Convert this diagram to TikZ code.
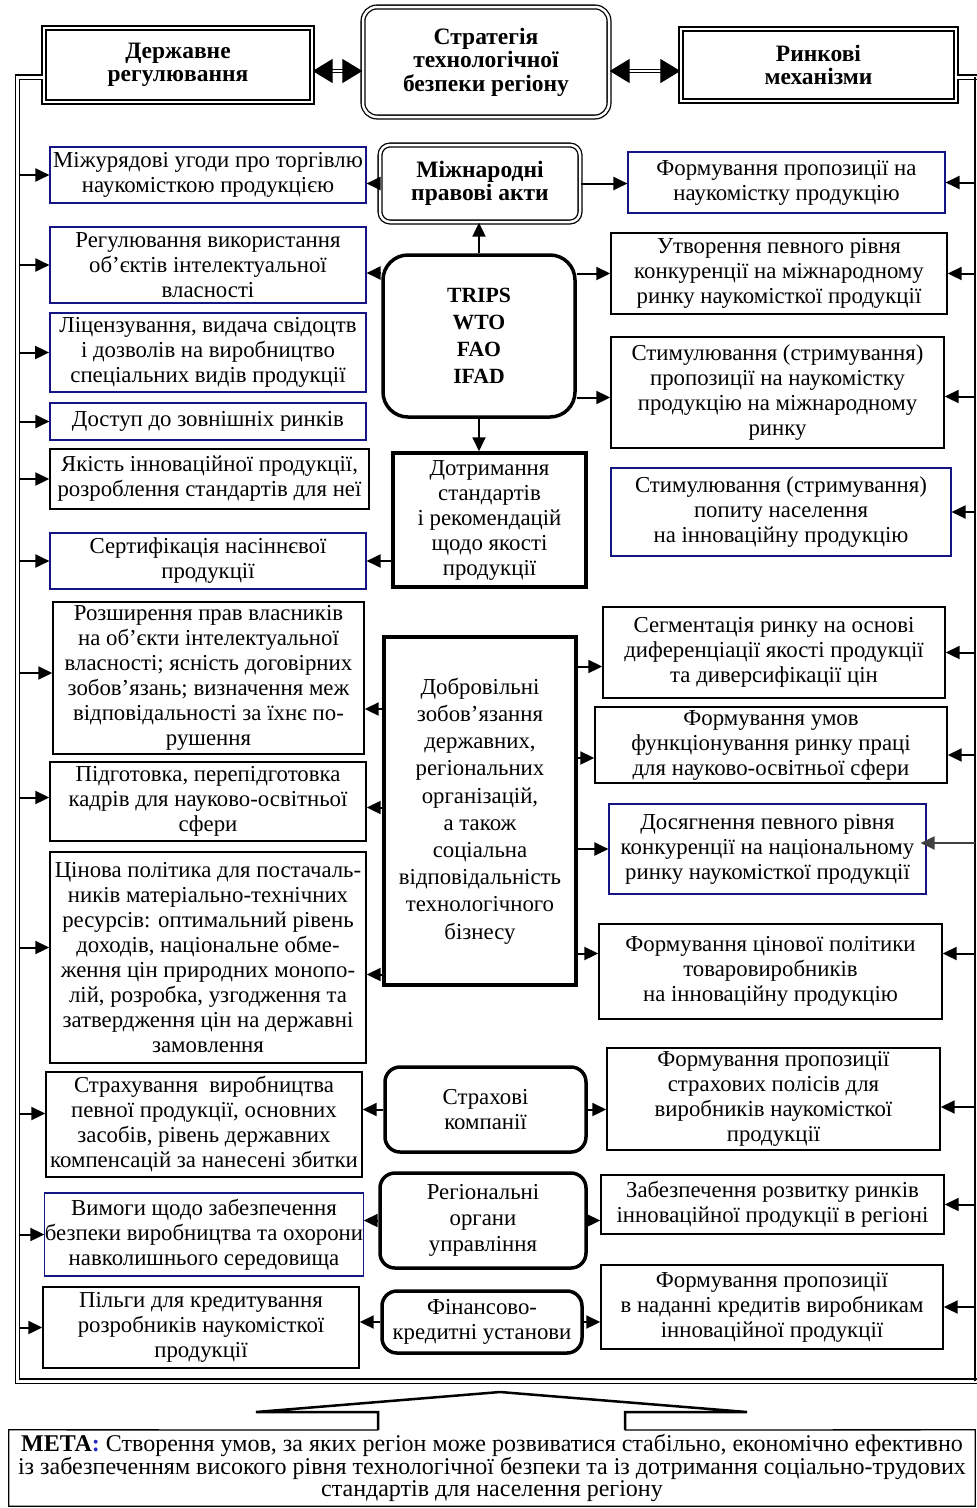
\documentclass[tikz,border=0pt]{standalone}
\usepackage{fontspec}
\setmainfont{Liberation Serif}
\usetikzlibrary{arrows.meta}
\definecolor{ramka}{RGB}{20,20,130}
\definecolor{metablue}{RGB}{40,40,190}

\begin{document}
\begin{tikzpicture}[x=1pt,y=-1pt,
    txt/.style={align=center,inner sep=0pt,font=\fontsize{22.8}{25}\selectfont},
    bld/.style={font=\fontsize{23.5}{23.5}\selectfont\bfseries},
    bx/.style={txt,draw,line width=1.4pt},
    bbx/.style={txt,draw=ramka,line width=1.1pt},
    tbx/.style={txt,draw,line width=3.5pt},
    rbx/.style={txt,draw,line width=3.5pt,rounded corners=15pt},
    dbx/.style={txt,draw,double,double distance=2.5pt,line width=1.3pt},
    arr/.style={-{Triangle[length=14pt,width=13pt]},line width=2pt},
    darr/.style={{Triangle[length=20pt,width=24pt]}-{Triangle[length=20pt,width=24pt]},double,double distance=2pt,line width=1.2pt},
    frame/.style={double,double distance=3pt,line width=1.3pt}]
    \useasboundingbox (0,0) rectangle (977,1508);

    % Верхній ряд
    \node[dbx,bld,minimum width=268pt,minimum height=74pt] (der) at (178,65) {Державне\\регулювання};
    \node[dbx,bld,rounded corners=14pt,minimum width=246pt,minimum height=110pt] (str) at (486,62) {Стратегія\\технологічної\\безпеки регіону};
    \node[dbx,bld,minimum width=275pt,minimum height=72pt] (rin) at (818.5,65) {Ринкові\\механізми};
    \draw[darr] ([yshift=-6pt]der.east) -- ([yshift=-6pt]der.east -| str.west);
    \draw[darr] ([yshift=-9pt]str.east) -- ([yshift=-9pt]str.east -| rin.west);

    % Рамка
    \coordinate (lbot) at (17.5,1381);
    \coordinate (lbus) at (19.5,0);
    \coordinate (rbus) at (975,77);
    \draw[frame] ([yshift=-12pt]der.west) -| (lbot) -- (lbot -| 977,0);
    \draw[frame] ([yshift=-12pt]rin.east) -- ++(21,0);
    \draw[line width=2.5pt] (rbus) -- (rbus |- lbot);

    % Ліва колонка
    \node[bbx,minimum width=316pt,minimum height=56pt] (l1) at (208,175) {Міжурядові угоди про торгівлю\\наукомісткою продукцією};
    \node[bbx,minimum width=316pt,minimum height=76pt] (l2) at (208,265) {Регулювання використання\\об’єктів інтелектуальної\\власності};
    \node[bbx,line width=1.8pt,minimum width=316pt,minimum height=79pt] (l3) at (208,352.5) {Ліцензування, видача свідоцтв\\і дозволів на виробництво\\спеціальних видів продукції};
    \node[bbx,minimum width=316pt,minimum height=37pt] (l4) at (208,421.5) {Доступ до зовнішніх ринків};
    \node[bx,minimum width=319pt,minimum height=60pt] (l5) at (209.5,479) {Якість інноваційної продукції,\\розроблення стандартів для неї};
    \node[bbx,minimum width=316pt,minimum height=56pt] (l6) at (208,561) {Сертифікація насіннєвої\\продукції};
    \node[bx,minimum width=311pt,minimum height=152pt] (l7) at (208.5,678) {Розширення прав власників\\на об’єкти інтелектуальної\\власності; ясність договірних\\зобов’язань; визначення меж\\відповідальності за їхнє по-\\рушення};
    \node[bx,minimum width=316pt,minimum height=79pt] (l8) at (208,801.5) {Підготовка, перепідготовка\\кадрів для науково-освітньої\\сфери};
    \node[bx,minimum width=316pt,minimum height=211pt] (l9) at (208,957.5) {Цінова політика для постачаль-\\ників матеріально-технічних\\ресурсів: оптимальний рівень\\доходів, національне обме-\\ження цін природних монопо-\\лій, розробка, узгодження та\\затвердження цін на державні\\замовлення};
    \node[bx,minimum width=316pt,minimum height=105pt] (l10) at (204,1124.5) {Страхування\ \ виробництва\\певної продукції, основних\\засобів, рівень державних\\компенсацій за нанесені збитки};
    \node[bbx,minimum width=316pt,minimum height=83pt] (l11) at (204,1234.5) {Вимоги щодо забезпечення\\безпеки виробництва та охорони\\навколишнього середовища};
    \node[bx,minimum width=316pt,minimum height=81pt] (l12) at (201,1327.5) {Пільги для кредитування\\розробників наукомісткої\\продукції};

    % Центральна колонка
    \node[dbx,bld,rounded corners=10pt,minimum width=200pt,minimum height=77pt] (mza) at (480,183.5) {Міжнародні\\правові акти};
    \node[rbx,font=\fontsize{21.7}{27}\selectfont\bfseries,rounded corners=25pt,minimum width=192pt,minimum height=162pt] (tr) at (479,336) {TRIPS\\WTO\\FAO\\IFAD};
    \node[tbx,minimum width=193pt,minimum height=134pt] (dot) at (489.5,520) {Дотримання\\стандартів\\і рекомендацій\\щодо якості\\продукції};
    \node[tbx,font=\fontsize{22.8}{27.2}\selectfont,minimum width=192pt,minimum height=348pt] (dob) at (480,811) {Добровільні\\зобов’язання\\державних,\\регіональних\\організацій,\\а також\\соціальна\\відповідальність\\технологічного\\бізнесу};
    \node[rbx,minimum width=201pt,minimum height=85pt] (strah) at (485.5,1109.5) {Страхові\\компанії};
    \node[rbx,font=\fontsize{22.8}{26}\selectfont,minimum width=206pt,minimum height=95pt] (reg) at (483,1220.5) {Регіональні\\органи\\управління};
    \node[rbx,minimum width=200pt,minimum height=62pt] (fin) at (482,1322) {Фінансово-\\кредитні установи};

    % Права колонка
    \node[bbx,minimum width=317pt,minimum height=61pt] (r1) at (786.5,182.5) {Формування пропозиції на\\наукомістку продукцію};
    \node[bx,minimum width=336pt,minimum height=81pt] (r2) at (779,273.5) {Утворення певного рівня\\конкуренції на міжнародному\\ринку наукомісткої продукції};
    \node[bx,minimum width=333pt,minimum height=111pt] (r3) at (777.5,392.5) {Стимулювання (стримування)\\пропозиції на наукомістку\\продукцію на міжнародному\\ринку};
    \node[bbx,minimum width=340pt,minimum height=88pt] (r4) at (781,512) {Стимулювання (стримування)\\попиту населення\\на інноваційну продукцію};
    \node[bx,minimum width=342pt,minimum height=91pt] (r5) at (774,652.5) {Сегментація ринку на основі\\диференціації якості продукції\\та диверсифікації цін};
    \node[bx,minimum width=352pt,minimum height=76pt] (r6) at (771,745) {Формування умов\\функціонування ринку праці\\для науково-освітньої сфери};
    \node[bbx,minimum width=317pt,minimum height=90pt] (r7) at (767.5,849) {Досягнення певного рівня\\конкуренції на національному\\ринку наукомісткої продукції};
    \node[bx,minimum width=343pt,minimum height=95pt] (r8) at (770.5,971.5) {Формування цінової політики\\товаровиробників\\на інноваційну продукцію};
    \node[bx,minimum width=333pt,minimum height=102pt] (r10) at (773.5,1099) {Формування пропозиції\\страхових полісів для\\виробників наукомісткої\\продукції};
    \node[bx,minimum width=343pt,minimum height=59pt] (r11) at (772.5,1204.5) {Забезпечення розвитку ринків\\інноваційної продукції в регіоні};
    \node[bx,minimum width=342pt,minimum height=84pt] (r12) at (772,1307) {Формування пропозиції\\в наданні кредитів виробникам\\інноваційної продукції};

    % Стрілки від центру
    \draw[arr] (tr.north) -- (tr.north |- mza.south);
    \draw[arr] (tr.south) -- (tr.south |- dot.north);
    \draw[arr] (mza.west) -- (mza.west -| l1.east);
    \draw[arr] (mza.east) -- (mza.east -| r1.west);
    \draw[arr] ([yshift=-8pt]l2.east -| tr.west) -- ([yshift=-8pt]l2.east);
    \draw[arr] (tr.east |- r2) -- (r2.west);
    \draw[arr] ([yshift=-5pt]r3.west -| tr.east) -- ([yshift=-5pt]r3.west);
    \draw[arr] (dot.west |- l6) -- (l6.east);
    \draw[arr] ([yshift=-31pt]l7.east -| dob.west) -- ([yshift=-31pt]l7.east);
    \draw[arr] ([yshift=-6pt]l8.east -| dob.west) -- ([yshift=-6pt]l8.east);
    \draw[arr] ([yshift=-17pt]l9.east -| dob.west) -- ([yshift=-17pt]l9.east);
    \draw[arr] ([yshift=-14pt]r5.west -| dob.east) -- ([yshift=-14pt]r5.west);
    \draw[arr] ([yshift=-13pt]r6.west -| dob.east) -- ([yshift=-13pt]r6.west);
    \draw[arr] (dob.east |- r7) -- (r7.west);
    \draw[arr] ([yshift=18pt]r8.west -| dob.east) -- ([yshift=18pt]r8.west);
    \draw[arr] (strah.west) -- (strah.west -| l10.east);
    \draw[arr] (strah.east) -- (strah.east -| r10.west);
    \draw[arr] (reg.west) -- (reg.west -| l11.east);
    \draw[arr] (reg.east) -- (reg.east -| r11.west);
    \draw[arr] (fin.west) -- (fin.west -| l12.east);
    \draw[arr] (fin.east) -- (fin.east -| r12.west);

    % Стрілки від лівої рамки
    \draw[arr] (lbus |- l1) -- (l1.west);
    \draw[arr] (lbus |- l2) -- (l2.west);
    \draw[arr] (lbus |- l3) -- (l3.west);
    \draw[arr] (lbus |- l4) -- (l4.west);
    \draw[arr] (lbus |- l5) -- (l5.west);
    \draw[arr] (lbus |- l6) -- (l6.west);
    \draw[arr] ([yshift=5pt]l7.west -| lbus) -- ([yshift=5pt]l7.west);
    \draw[arr] ([yshift=4pt]l8.west -| lbus) -- ([yshift=4pt]l8.west);
    \draw[arr] ([yshift=10pt]l9.west -| lbus) -- ([yshift=10pt]l9.west);
    \draw[arr] ([yshift=11pt]l10.west -| lbus) -- ([yshift=11pt]l10.west);
    \draw[arr] (lbus |- l11) -- (l11.west);
    \draw[arr] (lbus |- l12) -- (l12.west);

    % Стрілки від правої рамки
    \draw[arr] (rbus |- r1) -- (r1.east);
    \draw[arr] (rbus |- r2) -- (r2.east);
    \draw[arr] ([yshift=-4pt]r3.east -| rbus) -- ([yshift=-4pt]r3.east);
    \draw[arr] (rbus |- r4) -- (r4.east);
    \draw[arr] (rbus |- r5) -- (r5.east);
    \draw[arr] ([yshift=-10pt]r6.east -| rbus) -- ([yshift=-10pt]r6.east);
    \draw[arr,black!75] ([yshift=6pt]r7.east -| rbus) -- ([shift={(-6pt,6pt)}]r7.east);
    \draw[arr] ([yshift=18pt]r8.east -| rbus) -- ([yshift=18pt]r8.east);
    \draw[arr] ([yshift=-8pt]r10.east -| rbus) -- ([yshift=-8pt]r10.east);
    \draw[arr] (rbus |- r11) -- (r11.east);
    \draw[arr] (rbus |- r12) -- (r12.east);

    % Мета
    \node[txt,font=\fontsize{24}{22.5}\selectfont,minimum width=966pt,minimum height=76pt] (meta) at (492,1468) {\textbf{МЕТА\textcolor{metablue}{:}} Створення умов, за яких регіон може розвиватися стабільно, економічно ефективно\\із забезпеченням високого рівня технологічної безпеки та із дотримання соціально-трудових\\стандартів для населення регіону};
    \draw[line width=1.3pt] (378,1430) -- (meta.north west) -- (meta.south west) -- (meta.south east) -- (meta.north east) -- (625,1430);
    \draw[line width=2.5pt,line join=miter] (378,1430) -- (378,1412) -- (256,1412) -- (500,1392) -- (747,1412) -- (625,1412) -- (625,1430);
\end{tikzpicture}
\end{document}
